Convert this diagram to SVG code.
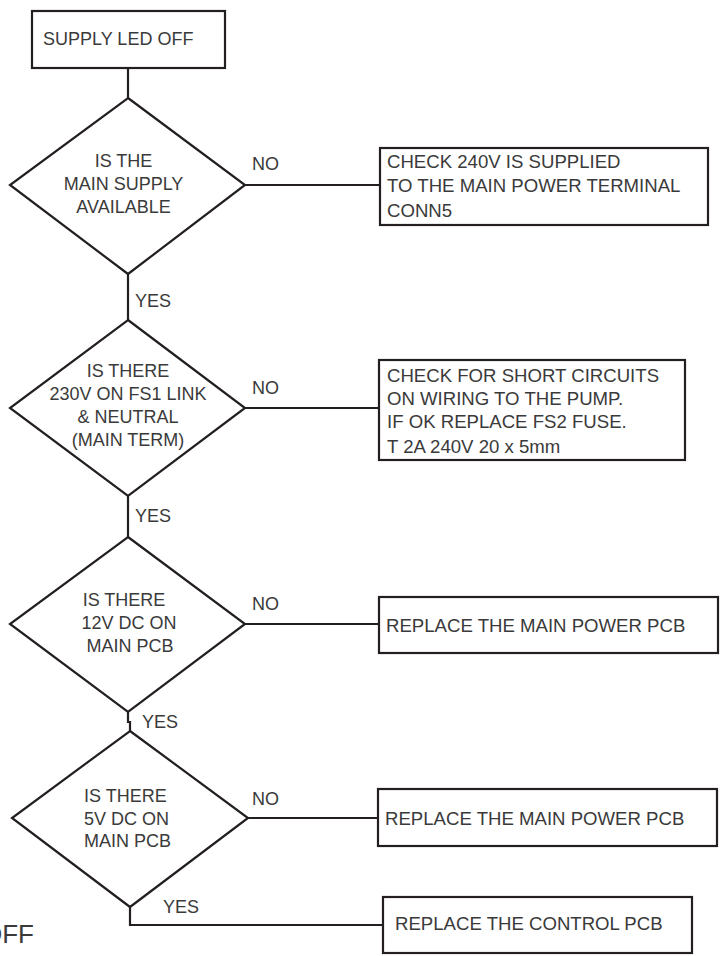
<svg xmlns="http://www.w3.org/2000/svg" width="723" height="956" viewBox="0 0 723 956">
<style>
  .shape { fill: #ffffff; stroke: #231f20; stroke-width: 2.2; }
  .conn { fill: none; stroke: #231f20; stroke-width: 2.2; }
  text { font-family: "Liberation Sans", Arial, sans-serif; font-size: 18px; fill: #3a3a3a; }
  .box { font-size: 18.6px; }
  .mid { text-anchor: middle; }
</style>
<rect width="723" height="956" fill="#ffffff"/>
<g id="connectors">
  <line class="conn" x1="128" y1="68" x2="128" y2="98"/>
  <line class="conn" x1="245" y1="185" x2="380" y2="185"/>
  <line class="conn" x1="128" y1="274" x2="128" y2="320"/>
  <line class="conn" x1="245" y1="408" x2="380" y2="408"/>
  <line class="conn" x1="128" y1="496" x2="128" y2="537"/>
  <line class="conn" x1="245" y1="624" x2="379" y2="624"/>
  <polyline class="conn" points="128,712 128,722 130,722 130,731"/>
  <line class="conn" x1="248" y1="818" x2="378" y2="818"/>
  <polyline class="conn" points="130,907 130,925 383,925"/>
  <text x="252" y="170">NO</text>
  <text x="135" y="307">YES</text>
  <text x="252" y="394">NO</text>
  <text x="135" y="522">YES</text>
  <text x="252" y="610">NO</text>
  <text x="142" y="728">YES</text>
  <text x="252" y="805">NO</text>
  <text x="163" y="913">YES</text>
</g>
<g id="start">
  <rect class="shape" x="32" y="11" width="193" height="57"/>
  <text x="43" y="45">SUPPLY LED OFF</text>
</g>
<g id="d1">
  <polygon class="shape" points="128,98 245,185 128,274 10,185"/>
  <text class="mid" x="123.5" y="167">IS THE</text>
  <text class="mid" x="123.5" y="190">MAIN SUPPLY</text>
  <text class="mid" x="123.5" y="213">AVAILABLE</text>
</g>
<g id="b1">
  <rect class="shape" x="380" y="148" width="328" height="77"/>
  <text class="box" x="387" y="168">CHECK 240V IS SUPPLIED</text>
  <text class="box" x="387" y="192">TO THE MAIN POWER TERMINAL</text>
  <text class="box" x="387" y="217">CONN5</text>
</g>
<g id="d2">
  <polygon class="shape" points="128,320 245,408 128,496 10,408"/>
  <text class="mid" x="128" y="377">IS THERE</text>
  <text class="mid" x="128" y="400">230V ON FS1 LINK</text>
  <text class="mid" x="128" y="423">&amp; NEUTRAL</text>
  <text class="mid" x="128" y="446">(MAIN TERM)</text>
</g>
<g id="b2">
  <rect class="shape" x="379" y="360" width="306" height="100"/>
  <text class="box" x="387" y="382">CHECK FOR SHORT CIRCUITS</text>
  <text class="box" x="387" y="405">ON WIRING TO THE PUMP.</text>
  <text class="box" x="387" y="428">IF OK REPLACE FS2 FUSE.</text>
  <text class="box" x="387" y="453">T 2A 240V 20 x 5mm</text>
</g>
<g id="d3">
  <polygon class="shape" points="128,537 245,624 128,712 10,624"/>
  <text class="mid" x="124" y="606">IS THERE</text>
  <text class="mid" x="129" y="629">12V DC ON</text>
  <text class="mid" x="130" y="652">MAIN PCB</text>
</g>
<g id="b3">
  <rect class="shape" x="379" y="597" width="339" height="56"/>
  <text class="box" x="386" y="632">REPLACE THE MAIN POWER PCB</text>
</g>
<g id="d4">
  <polygon class="shape" points="130,731 248,818 130,907 12,818"/>
  <text x="84" y="802">IS THERE</text>
  <text x="84" y="825">5V DC ON</text>
  <text x="84" y="847">MAIN PCB</text>
</g>
<g id="b4">
  <rect class="shape" x="378" y="789" width="339" height="57"/>
  <text class="box" x="385" y="825">REPLACE THE MAIN POWER PCB</text>
</g>
<g id="b5">
  <rect class="shape" x="383" y="897" width="309" height="56"/>
  <text class="box" x="395" y="930">REPLACE THE CONTROL PCB</text>
</g>
<text x="34" y="943" style="font-size:26px; text-anchor:end;">OFF</text>
</svg>
